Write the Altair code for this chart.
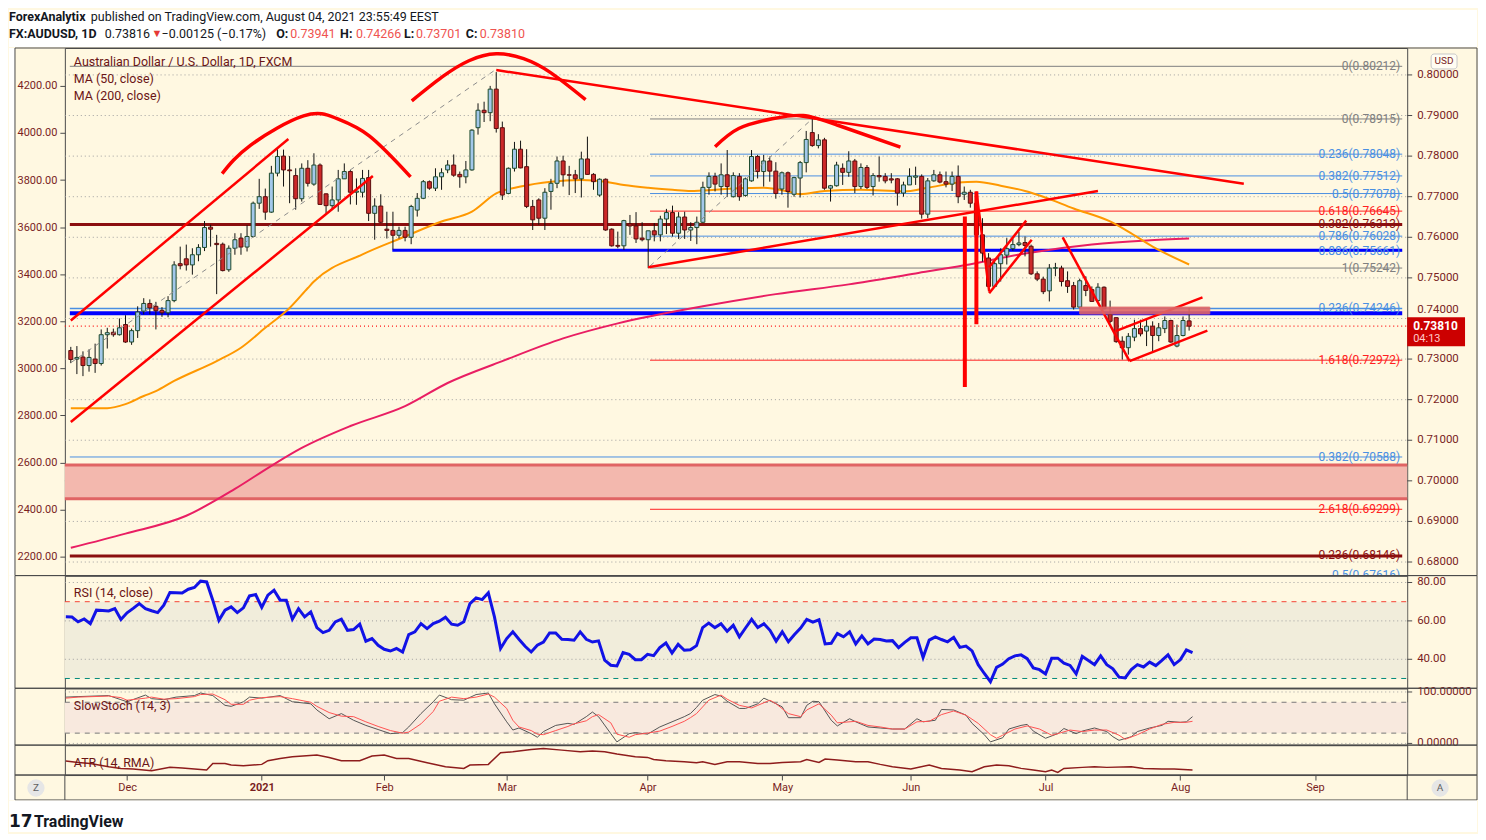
import altair as alt
import pandas as pd

# ------------------------------------------------------------------ data
OPEN = [0.7321,0.7300,0.7305,0.7284,0.7300,0.7289,0.7360,0.7366,0.7360,0.7385,
0.7342,0.7370,0.7418,0.7437,0.7430,0.7420,0.7414,0.7444,0.7535,0.7547,
0.7532,0.7557,0.7575,0.7625,0.7585,0.7583,0.7520,0.7573,0.7598,0.7576,
0.7602,0.7684,0.7700,0.7662,0.7758,0.7800,0.7766,0.7752,0.7695,0.7770,
0.7731,0.7778,0.7707,0.7678,0.7692,0.7744,0.7762,0.7711,0.7711,0.7747,
0.7659,0.7677,0.7620,0.7617,0.7605,0.7617,0.7600,0.7667,0.7696,0.7737,
0.7721,0.7749,0.7766,0.7778,0.7755,0.7749,0.7766,0.7870,0.7913,0.7907,
0.7965,0.7870,0.7708,0.7770,0.7817,0.7774,0.7676,0.7692,0.7647,0.7713,
0.7733,0.7788,0.7754,0.7754,0.7744,0.7793,0.7755,0.7704,0.7743,0.7620,
0.7580,0.7579,0.7633,0.7628,0.7598,0.7594,0.7616,0.7606,0.7645,0.7661,
0.7610,0.7650,0.7618,0.7624,0.7637,0.7723,0.7750,0.7725,0.7754,0.7700,
0.7750,0.7703,0.7739,0.7799,0.7762,0.7788,0.7763,0.7719,0.7759,0.7706,
0.7746,0.7784,0.7858,0.7826,0.7840,0.7721,0.7727,0.7770,0.7760,0.7788,
0.7725,0.7772,0.7725,0.7752,0.7750,0.7744,0.7744,0.7709,0.7729,0.7748,
0.7750,0.7657,0.7739,0.7754,0.7737,0.7731,0.7750,0.7706,0.7711,0.7684,
0.7606,0.7549,0.7479,0.7535,0.7556,0.7572,0.7582,0.7587,0.7578,0.7510,
0.7497,0.7468,0.7524,0.7524,0.7493,0.7481,0.7428,0.7481,0.7471,0.7444,
0.7477,0.7410,0.7402,0.7344,0.7328,0.7354,0.7375,0.7369,0.7381,0.7358,
0.7375,0.7395,0.7332,0.7358,0.73941]
HIGH = [0.7330,0.7332,0.7319,0.7324,0.7338,0.7373,0.7377,0.7375,0.7400,0.7408,
0.7375,0.7430,0.7450,0.7447,0.7441,0.7428,0.7455,0.7541,0.7577,0.7582,
0.7573,0.7583,0.7640,0.7631,0.7606,0.7587,0.7580,0.7610,0.7610,0.7630,
0.7688,0.7744,0.7720,0.7776,0.7817,0.7816,0.7800,0.7770,0.7782,0.7790,
0.7807,0.7782,0.7708,0.7725,0.7766,0.7782,0.7766,0.7745,0.7766,0.7766,
0.7696,0.7706,0.7663,0.7663,0.7626,0.7626,0.7680,0.7709,0.7741,0.7740,
0.7770,0.7770,0.7790,0.7804,0.7762,0.7788,0.7866,0.7930,0.7934,0.7973,
0.8007,0.7885,0.7772,0.7835,0.7838,0.7817,0.7692,0.7696,0.7721,0.7744,
0.7799,0.7801,0.7776,0.7766,0.7811,0.7848,0.7758,0.7745,0.7745,0.7622,
0.7614,0.7643,0.7655,0.7662,0.7637,0.7616,0.7635,0.7653,0.7670,0.7678,
0.7662,0.7663,0.7637,0.7651,0.7737,0.7760,0.7759,0.7782,0.7815,0.7760,
0.7758,0.7747,0.7815,0.7803,0.7803,0.7799,0.7785,0.7762,0.7762,0.7749,
0.7788,0.7862,0.7892,0.7854,0.7845,0.7729,0.7786,0.7782,0.7812,0.7793,
0.7782,0.7778,0.7758,0.7799,0.7758,0.7758,0.7746,0.7737,0.7770,0.7774,
0.7755,0.7746,0.7766,0.7762,0.7762,0.7762,0.7777,0.7725,0.7717,0.7690,
0.7647,0.7561,0.7540,0.7573,0.7598,0.7598,0.7614,0.7602,0.7582,0.7516,
0.7503,0.7534,0.7537,0.7530,0.7516,0.7490,0.7498,0.7504,0.7479,0.7487,
0.7479,0.7444,0.7402,0.7356,0.7364,0.7397,0.7397,0.7397,0.7393,0.7389,
0.7405,0.7397,0.7385,0.7405,0.74266]
LOW = [0.7290,0.7263,0.7258,0.7269,0.7266,0.7284,0.7326,0.7355,0.7358,0.7340,
0.7335,0.7352,0.7410,0.7410,0.7373,0.7404,0.7403,0.7440,0.7521,0.7518,
0.7508,0.7541,0.7566,0.7577,0.7460,0.7516,0.7515,0.7557,0.7557,0.7565,
0.7600,0.7670,0.7643,0.7660,0.7750,0.7725,0.7684,0.7668,0.7688,0.7725,
0.7727,0.7680,0.7659,0.7667,0.7663,0.7744,0.7681,0.7680,0.7698,0.7640,
0.7594,0.7635,0.7597,0.7570,0.7597,0.7590,0.7583,0.7651,0.7694,0.7717,
0.7714,0.7717,0.7758,0.7749,0.7722,0.7733,0.7764,0.7853,0.7884,0.7886,
0.7858,0.7692,0.7706,0.7762,0.7770,0.7672,0.7618,0.7631,0.7618,0.7668,
0.7721,0.7725,0.7704,0.7709,0.7698,0.7754,0.7717,0.7700,0.7616,0.7577,
0.7573,0.7569,0.7606,0.7586,0.7590,0.7524,0.7590,0.7590,0.7608,0.7602,
0.7596,0.7596,0.7591,0.7583,0.7635,0.7705,0.7713,0.7705,0.7700,0.7698,
0.7690,0.7700,0.7737,0.7745,0.7725,0.7737,0.7695,0.7705,0.7673,0.7700,
0.7698,0.7760,0.7823,0.7819,0.7717,0.7688,0.7725,0.7729,0.7749,0.7709,
0.7719,0.7719,0.7703,0.7737,0.7733,0.7733,0.7678,0.7700,0.7729,0.7729,
0.7646,0.7647,0.7737,0.7733,0.7723,0.7714,0.7684,0.7692,0.7673,0.7600,
0.7540,0.7467,0.7477,0.7491,0.7533,0.7567,0.7578,0.7553,0.7507,0.7492,
0.7460,0.7442,0.7504,0.7479,0.7463,0.7422,0.7424,0.7455,0.7442,0.7442,
0.7422,0.7389,0.7340,0.7299,0.7311,0.7344,0.7356,0.7332,0.7319,0.7344,
0.7364,0.7340,0.7329,0.7356,0.73701]
CLOSE = [0.7299,0.7304,0.7284,0.7304,0.7289,0.7360,0.7365,0.7360,0.7377,0.7342,
0.7370,0.7416,0.7437,0.7426,0.7419,0.7414,0.7444,0.7532,0.7530,0.7532,
0.7557,0.7575,0.7624,0.7620,0.7582,0.7518,0.7573,0.7594,0.7576,0.7602,
0.7684,0.7700,0.7662,0.7758,0.7799,0.7766,0.7764,0.7695,0.7770,0.7733,
0.7778,0.7681,0.7678,0.7692,0.7744,0.7762,0.7711,0.7714,0.7745,0.7659,
0.7677,0.7637,0.7617,0.7605,0.7617,0.7600,0.7676,0.7696,0.7737,0.7721,
0.7749,0.7759,0.7778,0.7753,0.7749,0.7766,0.7864,0.7913,0.7907,0.7965,
0.7868,0.7704,0.7770,0.7817,0.7771,0.7676,0.7643,0.7647,0.7711,0.7733,
0.7788,0.7754,0.7753,0.7744,0.7793,0.7755,0.7737,0.7743,0.7618,0.7579,
0.7578,0.7641,0.7628,0.7596,0.7594,0.7616,0.7606,0.7645,0.7661,0.7610,
0.7650,0.7618,0.7624,0.7637,0.7723,0.7750,0.7731,0.7754,0.7725,0.7752,
0.7700,0.7744,0.7799,0.7762,0.7788,0.7763,0.7708,0.7759,0.7713,0.7747,
0.7784,0.7841,0.7826,0.7840,0.7721,0.7727,0.7778,0.7760,0.7788,0.7725,
0.7772,0.7723,0.7752,0.7749,0.7739,0.7741,0.7709,0.7729,0.7750,0.7751,
0.7657,0.7739,0.7754,0.7736,0.7731,0.7750,0.7700,0.7711,0.7684,0.7606,
0.7561,0.7479,0.7535,0.7557,0.7572,0.7582,0.7586,0.7580,0.7510,0.7497,
0.7466,0.7524,0.7525,0.7491,0.7479,0.7428,0.7493,0.7469,0.7442,0.7477,
0.7424,0.7393,0.7343,0.7328,0.7356,0.7375,0.7362,0.7381,0.7358,0.7377,
0.7395,0.7342,0.7358,0.7395,0.73810]

RSI = [62.1,62.0,59.5,61.0,58.6,65.6,65.4,65.2,66.4,60.7,
64.2,66.5,69.0,66.4,65.3,64.3,68.2,74.8,74.7,74.5,
76.5,77.4,80.7,80.3,70.8,60.3,65.6,67.3,64.3,66.8,
73.0,73.7,67.0,73.4,76.0,70.8,70.8,60.9,66.4,62.1,
64.7,56.5,53.9,55.1,59.5,60.9,55.1,55.5,58.3,49.4,
50.8,47.3,45.2,44.3,45.6,43.8,52.9,54.3,58.6,56.0,
58.6,59.8,61.9,58.3,57.7,59.5,69.0,72.0,71.1,74.6,
62.1,45.6,50.8,54.3,50.4,46.8,43.8,47.3,49.0,53.7,
53.7,50.4,50.3,49.9,54.3,50.4,49.0,49.6,39.5,36.9,
36.5,43.5,42.6,39.8,39.8,42.6,41.9,46.1,48.5,43.3,
47.8,44.7,45.0,47.1,56.5,58.9,56.5,58.5,54.6,57.7,
51.7,56.3,60.8,56.5,58.5,55.1,49.5,54.3,49.1,52.9,
56.3,60.8,59.4,60.6,48.0,48.3,53.4,51.7,54.3,48.0,
52.2,48.0,50.5,50.3,49.5,49.7,46.1,48.8,51.2,51.2,
40.9,50.0,51.7,50.3,49.1,51.4,46.2,46.9,44.4,37.2,
32.6,28.3,35.8,37.5,40.3,41.8,42.3,40.3,35.5,34.6,
32.4,40.6,40.6,38.0,36.8,32.4,41.5,39.4,37.2,41.8,
37.2,35.0,30.7,30.3,34.6,37.2,36.0,38.5,36.7,39.4,
42.3,37.2,39.7,44.9,43.5]

MA50_BAR = [0,6,9,12,14,17,24,28,32,36,39,40,48,55,61,66,70,74,79,84,88,91,95,99,102,
            106,110,114,118,120,124,130,137,141,146,149,153,157,160,165,171,174,178,184]
MA50 = [0.7179,0.7179,0.7189,0.7209,0.7221,0.7246,0.7295,0.7328,0.7377,0.7426,0.7475,0.7491,
        0.7558,0.7602,0.7639,0.7663,0.7708,0.7725,0.7737,0.7741,0.7737,0.7729,0.7722,0.7717,
        0.7714,0.7717,0.7721,0.7722,0.7713,0.7706,0.7714,0.7717,0.7713,0.7722,0.7735,0.7737,
        0.7727,0.7714,0.7700,0.7671,0.7639,0.7614,0.7577,0.7533]
MA200_BAR = [0,9,19,27,33,38,46,55,62,71,81,90,104,116,128,139,147,157,168,177,184]
MA200 = [0.6835,0.6870,0.6914,0.6980,0.7037,0.7081,0.7135,0.7184,0.7241,0.7295,0.7351,
         0.7388,0.7430,0.7460,0.7484,0.7511,0.7531,0.7560,0.7582,0.7592,0.7597]

K_BAR = [0,2,7,9,10,13,14,16,18,21,22,24,26,27,29,30,32,35,37,40,41,43,45,47,49,51,53,55,56,58,
         60,61,63,65,67,69,70,72,73,74,76,77,78,80,82,83,85,86,87,89,90,92,93,95,97,99,101,102,
         103,104,106,107,108,110,111,113,114,116,117,118,120,121,122,123,125,126,128,129,131,
         133,135,137,139,140,142,143,145,147,148,150,151,153,154,156,157,158,160,162,163,165,
         166,168,170,171,172,174,175,177,179,180,182,183,184]
K_VAL = [90,91,93,85,81,94,87,85,90,93,98,93,74,72,81,90,88,93,81,77,65,48,58,45,35,27,19,21,
         32,58,81,94,85,84,95,98,77,42,26,30,19,12,23,35,39,37,52,61,52,19,3,19,21,18,32,42,52,
         58,70,84,95,92,82,68,68,77,88,77,71,50,50,74,82,81,45,34,48,42,32,30,28,28,48,42,45,
         66,65,55,39,17,3,11,28,35,37,24,10,19,29,19,24,30,23,13,6,13,23,30,35,43,41,42,52]
D_BAR = [0,2,7,9,10,13,14,16,18,21,22,24,26,27,29,30,32,35,37,40,41,43,45,47,49,51,53,55,56,58,
         60,61,63,65,67,69,70,72,73,74,76,77,78,80,82,83,85,86,87,89,90,92,93,95,97,99,101,102,
         103,105,107,108,110,112,113,115,116,118,120,121,123,125,126,129,131,133,135,137,139,
         141,143,145,147,149,151,152,153,155,157,159,161,162,164,166,168,170,172,173,175,177,
         179,181,183,184]
D_VAL = [88,90,92,89,84,88,90,86,87,91,95,96,85,76,76,84,89,91,87,80,72,60,53,52,42,33,25,20,
         22,38,62,82,90,87,90,96,90,68,45,32,25,18,17,25,33,38,44,52,56,40,18,12,17,20,24,33,43,
         50,58,84,94,86,74,69,74,84,77,58,52,65,77,55,40,43,35,32,28,28,42,43,56,63,55,39,17,10,
         16,28,34,28,16,19,26,23,26,26,16,8,17,28,37,41,41,43]

ATR_BAR = [0,2,4,7,9,11,14,17,19,21,23,24,26,27,29,32,33,35,37,41,43,45,48,50,52,54,56,59,62,
           65,66,69,71,73,76,78,81,84,86,88,90,93,95,96,98,101,103,104,106,108,110,113,115,117,
           120,121,123,124,126,129,131,133,135,138,141,143,146,148,150,152,154,156,158,160,161,
           162,163,166,168,170,174,176,179,181,184]
ATR = [0.00654,0.00626,0.00605,0.00536,0.00502,0.00488,0.00454,0.00523,0.00509,0.00488,
       0.00467,0.00605,0.00605,0.00571,0.00557,0.00585,0.00661,0.00709,0.00743,0.00778,
       0.00730,0.00661,0.00661,0.00757,0.00778,0.00709,0.00709,0.00619,0.00536,0.00502,
       0.00571,0.00585,0.00826,0.00847,0.00895,0.00916,0.00881,0.00847,0.00861,0.00847,
       0.00799,0.00743,0.00730,0.00688,0.00661,0.00640,0.00619,0.00640,0.00585,0.00640,
       0.00640,0.00605,0.00605,0.00626,0.00640,0.00688,0.00626,0.00695,0.00674,0.00640,
       0.00640,0.00585,0.00536,0.00488,0.00571,0.00502,0.00467,0.00433,0.00536,0.00571,
       0.00557,0.00502,0.00467,0.00433,0.00467,0.00419,0.00502,0.00523,0.00536,0.00523,
       0.00536,0.00502,0.00488,0.00488,0.00467]

MONTH_BAR = [10, 32, 52, 72, 95, 117, 138, 160, 182, 204]
MONTH_LABEL = ["Dec", "2021", "Feb", "Mar", "Apr", "May", "Jun", "Jul", "Aug", "Sep"]
PRICE_TICKS = [0.68, 0.69, 0.70, 0.71, 0.72, 0.73, 0.74, 0.75, 0.76, 0.77, 0.78, 0.79, 0.80]
LEFT_TICKS = [2200, 2400, 2600, 2800, 3000, 3200, 3400, 3600, 3800, 4000, 4200]
RSI_TICKS = [40, 60, 80]
STO_TICKS = [0, 100]

# horizontal levels (fib tools etc.): level, first bar (None = whole width)
HL_LEVEL = [0.80212, 0.78915, 0.78048, 0.77512, 0.77078, 0.76645, 0.76313, 0.76028, 0.75661,
            0.7568, 0.75242, 0.74246, 0.7413, 0.72972, 0.70588, 0.69299, 0.68146]
HL_START = [None, 95.3, 95.3, 95.3, 95.3, 95.3, None, 95.3, 95.3, 52.9, 95.3, None, None,
            95.3, None, 95.3, None]
FIB_TEXT = ["0(0.80212)", "0(0.78915)", "0.236(0.78048)", "0.382(0.77512)", "0.5(0.77078)",
            "0.618(0.76645)", "0.786(0.76028)", "0.886(0.75661)", "1(0.75242)",
            "0.236(0.74246)", "1.618(0.72972)", "0.382(0.70588)", "2.618(0.69299)"]
FIB_TEXT_P = [0.80212, 0.78915, 0.78048, 0.77512, 0.77078, 0.76645, 0.76028, 0.75661,
              0.75242, 0.74246, 0.72972, 0.70588, 0.69299]
FIB2_TEXT = ["0.382(0.76313)", "0.236(0.68146)"]
FIB2_P = [0.76313, 0.68146]
ZONE = [0.69558, 0.70393]
LAST_PRICE = 0.73810

# hand-drawn annotations: anchor points (bar, price)
TRENDLINES = {
    "chan_up": [(0, 0.7395), (35.8, 0.7842)],
    "chan_dn": [(0, 0.7145), (49.7, 0.7751)],
    "top_tl": [(70, 0.8012), (193, 0.7732)],
    "rise_tl": [(95, 0.7526), (169, 0.7714)],
    "v_leg": [(149.0, 0.7713), (151.1, 0.7467)],
    "w_up": [(151.1, 0.7526), (157.2, 0.7641)],
    "w_dn": [(151.1, 0.7462), (158.1, 0.7594)],
    "jul_leg": [(163.2, 0.7600), (174.2, 0.7295)],
    "ch2_dn": [(174.2, 0.7295), (187.0, 0.7370)],
    "ch2_up": [(171.9, 0.7369), (186.2, 0.7452)],
}
ARCS = {
    "arc1": [(24.9, 0.7757), (29.6, 0.7827), (38.3, 0.7899), (43.7, 0.7893), (49.1, 0.7850), (55.9, 0.7749)],
    "arc2": [(56.1, 0.7936), (61.1, 0.7995), (65.5, 0.8035), (70, 0.8052), (74.5, 0.8040), (79, 0.8005), (84.7, 0.7939)],
    "arc3": [(106.0, 0.7823), (109.9, 0.7868), (115.4, 0.7892), (120.5, 0.7900), (126.2, 0.7876), (136.5, 0.7822)],
}
DASHED = {
    "fib_a": [(0, 0.7291), (69.8, 0.8012)],
    "fib_b": [(95.3, 0.7529), (122, 0.7892)],
}
VLINE_BAR = [147.1, 149.0]
VLINE_LO = [0.7231, 0.7386]
VLINE_HI = [0.7651, 0.7713]
BOX = [166, 187.4, 0.7411, 0.7428]

# ------------------------------------------------------------------ layout / style
FONT = "Roboto"
W = 1346
H_MAIN, H_RSI, H_STO, H_ATR = 529, 113, 57, 30
X_DOM = [-0.16, 219.06]
P_DOM = [0.67666, 0.80663]
L_DOM = [2119.5, 4361.0]
RSI_DOM = [24.9, 83.6]
STO_DOM = [-3.3, 107.2]
ATR_DOM = [0.00364, 0.00985]
FL, FR = -50, W + 70
BG = "#fff8e1"
FRAME = "#4a4a4a"
AXC = "#7a1f1f"
GREY, BLUE, RED, DARK, PURE = "#808080", "#4a8fe2", "#ff2020", "#8b0f0f", "#0000ff"
HL_COLOR = [GREY, GREY, BLUE, BLUE, BLUE, RED, DARK, BLUE, BLUE, PURE, GREY, BLUE, PURE,
            RED, BLUE, RED, DARK]
HL_WIDTH = [1, 1, 1, 1, 1, 1, 3, 1, 1, 3, 1, 1.5, 4, 1, 1, 1, 3]
FIB_COLOR = [GREY, GREY, BLUE, BLUE, BLUE, RED, BLUE, BLUE, GREY, BLUE, RED, BLUE, RED]

xs = alt.Scale(domain=X_DOM, nice=False, zero=False)
ps = alt.Scale(domain=P_DOM, nice=False, zero=False)
one = pd.DataFrame({"k": [0]})


def px_rect(x, x2, y, y2, **kw):
    return alt.Chart(one).mark_rect(**kw).encode(
        x=alt.value(x), x2=alt.value(x2), y=alt.value(y), y2=alt.value(y2))


def px_text(txt, x, y, **kw):
    base = dict(align="left", baseline="middle", font=FONT)
    base.update(kw)
    return alt.Chart(one).mark_text(text=txt, **base).encode(x=alt.value(x), y=alt.value(y))


def segs(d):
    rows = []
    for name, pts in d.items():
        for b, p in pts:
            rows.append({"seg": name, "bar": b, "p": p})
    return pd.DataFrame(rows)


def deco(h, extra=0):
    return [px_rect(-56, FL, 0, h + extra, color="white"),
            px_rect(FL, FR, 0, h, fill="transparent", stroke=FRAME, strokeWidth=1)]


def right_scale(vals, fmt, scale, lifted=()):
    df = pd.DataFrame({"v": vals, "t": [format(v, fmt) for v in vals]})
    ticks = alt.Chart(df).mark_rule(color=FRAME, strokeWidth=1).encode(
        x=alt.value(W), x2=alt.value(W + 5), y=alt.Y("v:Q", scale=scale, axis=None))
    out = [ticks]
    normal = df[~df["v"].isin(lifted)]
    out.append(alt.Chart(normal).mark_text(align="left", baseline="middle", fontSize=11.5, font=FONT,
                                           color=AXC).encode(
        x=alt.value(W + 10), y=alt.Y("v:Q", scale=scale, axis=None), text="t:N"))
    if len(lifted):
        up_df = df[df["v"].isin(lifted)]
        out.append(alt.Chart(up_df).mark_text(align="left", baseline="middle", fontSize=11.5, font=FONT,
                                              color=AXC, dy=-8).encode(
            x=alt.value(W + 10), y=alt.Y("v:Q", scale=scale, axis=None), text="t:N"))
    return out


X = alt.X("bar:Q", scale=xs, axis=None)

# ------------------------------------------------------------------ main panel
cdf = pd.DataFrame({"bar": range(len(CLOSE)), "open": OPEN, "high": HIGH, "low": LOW, "close": CLOSE})
up = cdf["close"] >= cdf["open"]
cdf["fill"] = ["#a3c8ea" if u else "#cc2929" for u in up]
cdf["stroke"] = ["#1d4a2c" if u else "#5a0d0d" for u in up]

left_axis = alt.Axis(orient="left", values=LEFT_TICKS, format=".2f", title=None, domain=False,
                     grid=False, tickColor=FRAME, tickSize=5, labelColor=AXC, labelFontSize=11,
                     labelPadding=3, labelFont=FONT, labelOverlap=False)

left_layer = alt.Chart(pd.DataFrame({"v": LEFT_TICKS})).mark_point(opacity=0).encode(
    x=alt.value(0), y=alt.Y("v:Q", scale=alt.Scale(domain=L_DOM, nice=False, zero=False), axis=left_axis))

Yp = lambda f: alt.Y(f, scale=ps, axis=None)

grid = alt.Chart(pd.DataFrame({"p": PRICE_TICKS})).mark_rule(
    color="#a0a0a0", strokeDash=[1, 3], strokeWidth=1).encode(
    x=alt.value(0), x2=alt.value(W), y=Yp("p:Q"))

zone_df = pd.DataFrame({"lo": [ZONE[0]], "hi": [ZONE[1]]})
zone = alt.Chart(zone_df).mark_rect(color="#f3b8ae").encode(
    x=alt.value(0), x2=alt.value(W), y=Yp("lo:Q"), y2="hi:Q")
zone_edges = alt.Chart(pd.DataFrame({"p": ZONE})).mark_rule(color="#e06464", strokeWidth=3).encode(
    x=alt.value(0), x2=alt.value(W), y=Yp("p:Q"))

hl_df = pd.DataFrame({"level": HL_LEVEL,
                      "x0": [X_DOM[0] if s is None else s for s in HL_START],
                      "x1": [X_DOM[1]] * len(HL_LEVEL),
                      "color": HL_COLOR, "w": HL_WIDTH})
hlines = alt.Chart(hl_df).mark_rule(clip=True).encode(
    x=alt.X("x0:Q", scale=xs, axis=None), x2="x1:Q", y=Yp("level:Q"),
    color=alt.Color("color:N", scale=None), strokeWidth=alt.StrokeWidth("w:Q", scale=None))
cur_line = alt.Chart(pd.DataFrame({"p": [LAST_PRICE]})).mark_rule(
    color="#ff1010", strokeDash=[1, 3], strokeWidth=1.2).encode(x=alt.value(0), x2=alt.value(W), y=Yp("p:Q"))

ma50 = alt.Chart(pd.DataFrame({"bar": MA50_BAR, "p": MA50})).mark_line(
    color="#ff9800", strokeWidth=2, interpolate="monotone", clip=True).encode(x=X, y=Yp("p:Q"))
ma200 = alt.Chart(pd.DataFrame({"bar": MA200_BAR, "p": MA200})).mark_line(
    color="#e91e63", strokeWidth=2, interpolate="monotone", clip=True).encode(x=X, y=Yp("p:Q"))

wick = alt.Chart(cdf).mark_rule(color="#111111", strokeWidth=1, clip=True).encode(
    x=X, y=Yp("low:Q"), y2="high:Q")
body = alt.Chart(cdf).mark_bar(size=4, strokeWidth=1, clip=True).encode(
    x=X, y=Yp("open:Q"), y2="close:Q",
    fill=alt.Fill("fill:N", scale=None), stroke=alt.Stroke("stroke:N", scale=None))

dashed = alt.Chart(segs(DASHED)).mark_line(color="#8c8c8c", strokeDash=[5, 5], strokeWidth=1, clip=True).encode(
    x=X, y=Yp("p:Q"), detail="seg:N")
tl = alt.Chart(segs(TRENDLINES)).mark_line(color="#ff0000", strokeWidth=2.5, clip=True).encode(
    x=X, y=Yp("p:Q"), detail="seg:N")
arcs = alt.Chart(segs(ARCS)).mark_line(color="#ff0000", strokeWidth=3.5, interpolate="natural", clip=True).encode(
    x=X, y=Yp("p:Q"), detail="seg:N")
vlines = alt.Chart(pd.DataFrame({"bar": VLINE_BAR, "lo": VLINE_LO, "hi": VLINE_HI})).mark_rule(
    color="#ff0000", strokeWidth=4, clip=True).encode(x=X, y=Yp("lo:Q"), y2="hi:Q")
box = alt.Chart(pd.DataFrame({"b0": [BOX[0]], "b1": [BOX[1]], "lo": [BOX[2]], "hi": [BOX[3]]})).mark_rect(
    color="#e06666", opacity=0.9, stroke="#e06666", strokeWidth=1, clip=True).encode(
    x=alt.X("b0:Q", scale=xs, axis=None), x2="b1:Q", y=Yp("lo:Q"), y2="hi:Q")

fib_lbl = alt.Chart(pd.DataFrame({"t": FIB_TEXT, "p": FIB_TEXT_P, "c": FIB_COLOR})).mark_text(
    align="right", baseline="middle", fontSize=12, font=FONT).encode(
    x=alt.value(1339), y=Yp("p:Q"), text="t:N", color=alt.Color("c:N", scale=None))
fib2_lbl = alt.Chart(pd.DataFrame({"t": FIB2_TEXT, "p": FIB2_P})).mark_text(
    align="right", baseline="middle", fontSize=12, font=FONT, dy=-1, color=DARK).encode(
    x=alt.value(1339), y=Yp("p:Q"), text="t:N")
fib3_lbl = alt.Chart(pd.DataFrame({"t": ["0.5(0.67616)"], "p": [0.67616]})).mark_text(
    align="right", baseline="middle", fontSize=12, font=FONT, dy=-3, color=BLUE, clip=True).encode(
    x=alt.value(1339), y=Yp("p:Q"), text="t:N")

pbox = alt.Chart(pd.DataFrame({"hi": [0.74030], "lo": [0.73317]})).mark_rect(color="#cc0000").encode(
    x=alt.value(W), x2=alt.value(W + 58), y=Yp("hi:Q"), y2="lo:Q")
ptxt = alt.Chart(pd.DataFrame({"p": [LAST_PRICE], "t": ["0.73810"]})).mark_text(
    align="left", baseline="middle", fontSize=12, fontWeight="bold", color="white", font=FONT).encode(
    x=alt.value(W + 6), y=Yp("p:Q"), text="t:N")
ptxt2 = alt.Chart(pd.DataFrame({"p": [0.73489], "t": ["04:13"]})).mark_text(
    align="left", baseline="middle", fontSize=11, color="#ffc9c9", font=FONT).encode(
    x=alt.value(W + 6), y=Yp("p:Q"), text="t:N")

usd_box = px_rect(W + 24, W + 50, 6, 21, fill="#fffdf3", stroke="#c8c8c8", strokeWidth=1, cornerRadius=3)
usd_txt = px_text("USD", W + 37, 13.5, align="center", fontSize=10, color=AXC)

header = [
    px_rect(-56, FR, -38, -1, color="white"),
    px_text("ForexAnalytix", -56, -31, fontSize=12.5, fontWeight="bold", color="#131722"),
    px_text("published on TradingView.com, August 04, 2021 23:55:49 EEST", 26, -31, fontSize=12.5, color="#131722"),
    px_text("FX:AUDUSD, 1D", -56, -14, fontSize=12.5, fontWeight="bold", color="#131722"),
    px_text("0.73816", 40, -14, fontSize=12.5, color="#131722"),
    px_text("\u25bc", 87, -14, fontSize=11, color="#e53935"),
    px_text("\u22120.00125 (\u22120.17%)", 97, -14, fontSize=12.5, color="#131722"),
    px_text("O:", 212, -14, fontSize=12.5, fontWeight="bold", color="#131722"),
    px_text("0.73941", 226, -14, fontSize=12.5, color="#ef5350"),
    px_text("H:", 276, -14, fontSize=12.5, fontWeight="bold", color="#131722"),
    px_text("0.74266", 292, -14, fontSize=12.5, color="#ef5350"),
    px_text("L:", 340, -14, fontSize=12.5, fontWeight="bold", color="#131722"),
    px_text("0.73701", 352, -14, fontSize=12.5, color="#ef5350"),
    px_text("C:", 402, -14, fontSize=12.5, fontWeight="bold", color="#131722"),
    px_text("0.73810", 416, -14, fontSize=12.5, color="#ef5350"),
]
overlay = [
    px_text("Australian Dollar / U.S. Dollar, 1D, FXCM", 9, 14, fontSize=12.5, color="#6b1515"),
    px_text("MA (50, close)", 9, 31, fontSize=12.5, color="#6b1515"),
    px_text("MA (200, close)", 9, 48, fontSize=12.5, color="#6b1515"),
]

price_layers = [grid, zone, zone_edges, hlines, cur_line, ma200, ma50, wick, body, dashed, arcs, tl,
                vlines, box, fib_lbl, fib2_lbl, fib3_lbl] + right_scale(PRICE_TICKS, ".5f", ps, [0.74]) + \
               [pbox, ptxt, ptxt2, usd_box, usd_txt] + header + overlay + deco(H_MAIN)
main = alt.layer(left_layer, alt.layer(*price_layers)).resolve_scale(y="independent").properties(
    width=W, height=H_MAIN)

# ------------------------------------------------------------------ RSI panel
rs = alt.Scale(domain=RSI_DOM, nice=False, zero=False)
rsi_band = alt.Chart(pd.DataFrame({"lo": [30], "hi": [70]})).mark_rect(color="#f1eddb").encode(
    x=alt.value(0), x2=alt.value(W), y=alt.Y("lo:Q", scale=rs, axis=None), y2="hi:Q")
rsi_grid = alt.Chart(pd.DataFrame({"v": RSI_TICKS})).mark_rule(
    color="#a0a0a0", strokeDash=[1, 3]).encode(x=alt.value(0), x2=alt.value(W), y=alt.Y("v:Q", scale=rs, axis=None))
rsi_70 = alt.Chart(pd.DataFrame({"v": [70]})).mark_rule(color="#f44336", strokeDash=[5, 5]).encode(
    x=alt.value(0), x2=alt.value(W), y=alt.Y("v:Q", scale=rs, axis=None))
rsi_30 = alt.Chart(pd.DataFrame({"v": [30]})).mark_rule(color="#00897b", strokeDash=[5, 5]).encode(
    x=alt.value(0), x2=alt.value(W), y=alt.Y("v:Q", scale=rs, axis=None))
rsi_line = alt.Chart(pd.DataFrame({"bar": range(len(RSI)), "v": RSI})).mark_line(
    color="#1212e6", strokeWidth=3, clip=True).encode(x=X, y=alt.Y("v:Q", scale=rs, axis=None))
rsi = alt.layer(rsi_band, rsi_grid, rsi_70, rsi_30, rsi_line, *right_scale(RSI_TICKS, ".2f", rs),
                px_text("RSI (14, close)", 9, 17, fontSize=12.5, color="#6b1515"),
                *deco(H_RSI)).properties(width=W, height=H_RSI)

# ------------------------------------------------------------------ Stochastic panel
ss = alt.Scale(domain=STO_DOM, nice=False, zero=False)
sto_band = alt.Chart(pd.DataFrame({"lo": [20], "hi": [80]})).mark_rect(color="#f8e9de").encode(
    x=alt.value(0), x2=alt.value(W), y=alt.Y("lo:Q", scale=ss, axis=None), y2="hi:Q")
sto_grid = alt.Chart(pd.DataFrame({"v": STO_TICKS})).mark_rule(color="#a0a0a0", strokeDash=[1, 3]).encode(
    x=alt.value(0), x2=alt.value(W), y=alt.Y("v:Q", scale=ss, axis=None))
sto_lvl = alt.Chart(pd.DataFrame({"v": [20, 80]})).mark_rule(color="#787878", strokeDash=[5, 5]).encode(
    x=alt.value(0), x2=alt.value(W), y=alt.Y("v:Q", scale=ss, axis=None))
k_line = alt.Chart(pd.DataFrame({"bar": K_BAR, "v": K_VAL})).mark_line(
    color="#555555", strokeWidth=1, clip=True).encode(x=X, y=alt.Y("v:Q", scale=ss, axis=None))
d_line = alt.Chart(pd.DataFrame({"bar": D_BAR, "v": D_VAL})).mark_line(
    color="#ff5252", strokeWidth=1, clip=True).encode(x=X, y=alt.Y("v:Q", scale=ss, axis=None))
sto = alt.layer(sto_band, sto_grid, sto_lvl, k_line, d_line, *right_scale(STO_TICKS, ".5f", ss),
                px_text("SlowStoch (14, 3)", 9, 18, fontSize=12.5, color="#6b1515"),
                *deco(H_STO)).properties(width=W, height=H_STO)

# ------------------------------------------------------------------ ATR panel + time axis
label_expr = " : ".join(f"datum.value == {b} ? '{t}'" for b, t in zip(MONTH_BAR, MONTH_LABEL)) + " : ''"
x_axis = alt.Axis(values=MONTH_BAR, labelExpr=label_expr, title=None, domain=False, grid=False,
                  tickColor=FRAME, tickSize=5, labelColor=AXC, labelFontSize=11, labelPadding=2,
                  labelFont=FONT, labelOverlap=False, labelFlush=False,
                  labelFontWeight={"condition": {"test": "datum.value == 32", "value": "bold"},
                                   "value": "normal"})
ats = alt.Scale(domain=ATR_DOM, nice=False, zero=False)
atr_line = alt.Chart(pd.DataFrame({"bar": ATR_BAR, "v": ATR})).mark_line(
    color="#8e1c1c", strokeWidth=1.5, clip=True).encode(
    x=alt.X("bar:Q", scale=xs, axis=x_axis), y=alt.Y("v:Q", scale=ats, axis=None))
AX_H = 25
atr_extra = [
    px_rect(FL, FR, H_ATR, H_ATR + AX_H, fill="transparent", stroke=FRAME, strokeWidth=1),
    alt.Chart(one).mark_rule(color=FRAME).encode(x=alt.value(0), y=alt.value(H_ATR), y2=alt.value(H_ATR + AX_H)),
    alt.Chart(one).mark_rule(color=FRAME).encode(x=alt.value(W), y=alt.value(H_ATR), y2=alt.value(H_ATR + AX_H)),
    alt.Chart(one).mark_point(filled=True, size=300, color="#e6e6e6", opacity=1).encode(
        x=alt.value(-29), y=alt.value(43)),
    px_text("Z", -29, 43, align="center", fontSize=10, color="#606060"),
    alt.Chart(one).mark_point(filled=True, size=300, color="#e6e6e6", opacity=1).encode(
        x=alt.value(1379), y=alt.value(43)),
    px_text("A", 1379, 43, align="center", fontSize=10, color="#606060"),
    px_rect(-56, FR, H_ATR + AX_H + 0.5, 87, color="white"),
    px_text("17", -56, 77, fontSize=17, fontWeight="bold", font="DejaVu Sans", color="#131722"),
    px_text("TradingView", -31, 77, fontSize=16, fontWeight="bold", color="#131722"),
]
atr = alt.layer(atr_line, px_text("ATR (14, RMA)", 9, 18, fontSize=12.5, color="#6b1515"),
                *deco(H_ATR, AX_H), *atr_extra).properties(width=W, height=H_ATR)

chart = alt.vconcat(main, rsi, sto, atr, spacing=0, bounds="flush", padding=0).configure(
    font=FONT, background=BG).configure_view(stroke=FRAME, strokeWidth=1)

chart.save("out.html", embed_options={"renderer": "svg", "actions": False})
